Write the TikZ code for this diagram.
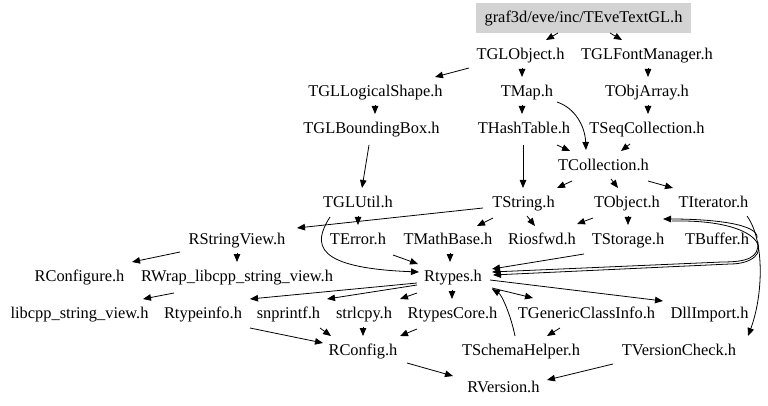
\documentclass[tikz,border=0pt]{standalone}
\usepackage{fontspec}
\setmainfont{Liberation Serif}
\usetikzlibrary{arrows.meta}
\definecolor{boxgray}{RGB}{211,211,211}
\newcommand\graphfont{\fontsize{16.4}{18}\selectfont}
\begin{document}
\begin{tikzpicture}[x=1pt,y=-1pt,
  lbl/.style={inner sep=0pt,text height=10.6pt,text depth=2pt,font=\graphfont},
  rootbox/.style={lbl,fill=boxgray,minimum width=215pt,minimum height=30pt},
  e/.style={line width=0.8pt,-{Triangle[length=8pt,width=6.5pt]}}]
\fill[white] (0,0) rectangle (768,406);
\useasboundingbox (0,0) rectangle (768,406);
% nodes
\node[rootbox] (top) at (583.5,18) {graf3d/eve/inc/TEveTextGL.h};
\node[lbl] (tglobj) at (520.5,55) {TGLObject.h};
\node[lbl] (tglfont) at (647,55) {TGLFontManager.h};
\node[lbl] (tgllog) at (375.5,92) {TGLLogicalShape.h};
\node[lbl] (tmap) at (527,92) {TMap.h};
\node[lbl] (tobjarr) at (647,92) {TObjArray.h};
\node[lbl] (tglbb) at (371.5,129) {TGLBoundingBox.h};
\node[lbl] (thash) at (524,129) {THashTable.h};
\node[lbl] (tseq) at (647,129) {TSeqCollection.h};
\node[lbl] (tcoll) at (603.5,166) {TCollection.h};
\node[lbl] (tglutil) at (358,203) {TGLUtil.h};
\node[lbl] (tstring) at (523.5,203) {TString.h};
\node[lbl] (tobject) at (627,203) {TObject.h};
\node[lbl] (titer) at (713.5,203) {TIterator.h};
\node[lbl] (rsv) at (237,240) {RStringView.h};
\node[lbl] (terror) at (358,240) {TError.h};
\node[lbl] (tmath) at (448,240) {TMathBase.h};
\node[lbl] (riosfwd) at (542,240) {Riosfwd.h};
\node[lbl] (tstorage) at (628,240) {TStorage.h};
\node[lbl] (tbuffer) at (717,240) {TBuffer.h};
\node[lbl] (rconfigure) at (79.5,277) {RConfigure.h};
\node[lbl] (rwrap) at (237,277) {RWrap\_libcpp\_string\_view.h};
\node[lbl] (rtypes) at (453,277) {Rtypes.h};
\node[lbl] (libcpp) at (79.5,314) {libcpp\_string\_view.h};
\node[lbl] (rtypeinfo) at (203,314) {Rtypeinfo.h};
\node[lbl] (snprintf) at (288.5,314) {snprintf.h};
\node[lbl] (strlcpy) at (364,314) {strlcpy.h};
\node[lbl] (rtcore) at (452.5,314) {RtypesCore.h};
\node[lbl] (tgen) at (586.5,314) {TGenericClassInfo.h};
\node[lbl] (dll) at (709.5,314) {DllImport.h};
\node[lbl] (rconfig) at (363,351) {RConfig.h};
\node[lbl] (tschema) at (521,351) {TSchemaHelper.h};
\node[lbl] (tvcheck) at (679,351) {TVersionCheck.h};
\node[lbl] (rversion) at (503.5,388) {RVersion.h};
% edges
\draw[e] ([shift={(-25.5,15)}]top.center) -- ([shift={(25.5,-15)}]tglobj.center);
\draw[e] ([shift={(26.5,15)}]top.center) -- ([shift={(-25,-15)}]tglfont.center);
\draw[e] ([shift={(-51.5,13)}]tglobj.center) -- ([shift={(59.5,-15)}]tgllog.center);
\draw[e] ([shift={(1.5,13)}]tglobj.center) -- ([shift={(-5,-15)}]tmap.center);
\draw[e] ([shift={(1,13)}]tglfont.center) -- ([shift={(1,-15)}]tobjarr.center);
\draw[e] ([shift={(-0.5,13)}]tgllog.center) -- ([shift={(3.5,-15)}]tglbb.center);
\draw[e] ([shift={(-5,13)}]tmap.center) -- ([shift={(-2,-15)}]thash.center);
\draw[e] ([shift={(1,13)}]tobjarr.center) -- ([shift={(1,-15)}]tseq.center);
\draw[e] ([shift={(30,10)}]tmap.center) .. controls +(18,6) and +(-1,-24) .. ([shift={(-17.5,-16)}]tcoll.center);
\draw[e] ([shift={(33,16)}]thash.center) -- ([shift={(-33.5,-15)}]tcoll.center);
\draw[e] ([shift={(-17,15)}]tseq.center) -- ([shift={(17.5,-15)}]tcoll.center);
\draw[e] ([shift={(-1,16)}]thash.center) -- ([shift={(-0.5,-15)}]tstring.center);
\draw[e] ([shift={(-2.5,16)}]tglbb.center) -- ([shift={(4,-15)}]tglutil.center);
\draw[e] ([shift={(-31.5,15)}]tcoll.center) -- ([shift={(33.5,-15)}]tstring.center);
\draw[e] ([shift={(7.5,13)}]tcoll.center) -- ([shift={(-9,-15)}]tobject.center);
\draw[e] ([shift={(44.5,15)}]tcoll.center) -- ([shift={(-40.5,-15)}]titer.center);
\draw[e] ([shift={(0,13)}]tglutil.center) -- ([shift={(0,-15)}]terror.center);
\draw[e] ([shift={(-28,14)}]tglutil.center) .. controls +(-18,28) and +(-104,-4) .. ([shift={(-34,-5)}]rtypes.center);
\draw[e] ([shift={(-40.5,5)}]tstring.center) -- ([shift={(60,-12)}]rsv.center);
\draw[e] ([shift={(-30.5,15)}]tstring.center) -- ([shift={(29,-14)}]tmath.center);
\draw[e] ([shift={(3.5,13)}]tstring.center) -- ([shift={(-7,-14)}]riosfwd.center);
\draw[e] ([shift={(-34,15)}]tobject.center) -- ([shift={(35,-16)}]riosfwd.center);
\draw[e] ([shift={(1,13)}]tobject.center) -- ([shift={(0,-15)}]tstorage.center);
\draw[e] ([shift={(40,-2)}]tbuffer.center) .. controls +(2,-14) and +(50,0) .. ([shift={(36,16)}]tobject.center);
\draw[e] ([shift={(45,18)}]tobject.center) .. controls +(103,-2) and +(45,0) .. ([shift={(13,24)}]tbuffer.center) -- ([shift={(40,-2)}]rtypes.center);
\draw[e] ([shift={(41,2)}]tbuffer.center) .. controls +(1,16) and +(25,0) .. ([shift={(5,22)}]tbuffer.center) -- ([shift={(39,-5)}]rtypes.center);
\draw[e] ([shift={(-44,14)}]tstorage.center) -- ([shift={(39,-8)}]rtypes.center);
\draw[e] ([shift={(33.5,13)}]titer.center) .. controls +(18,25) and +(15,-40) .. ([shift={(69,-15)}]tvcheck.center);
\draw[e] ([shift={(35,15)}]terror.center) -- ([shift={(-35,-13)}]rtypes.center);
\draw[e] ([shift={(2,13)}]tmath.center) -- ([shift={(-3,-15)}]rtypes.center);
\draw[e] ([shift={(-57,12)}]rsv.center) -- ([shift={(52.5,-15)}]rconfigure.center);
\draw[e] ([shift={(0,13)}]rsv.center) -- ([shift={(0,-15)}]rwrap.center);
\draw[e] ([shift={(-63,16)}]rwrap.center) -- ([shift={(63.5,-15)}]libcpp.center);
\draw[e] ([shift={(-36,6)}]rtypes.center) -- ([shift={(47,-15)}]rtypeinfo.center);
\draw[e] ([shift={(-36,8)}]rtypes.center) -- ([shift={(38.5,-15)}]snprintf.center);
\draw[e] ([shift={(-36,16)}]rtypes.center) -- ([shift={(36,-15)}]strlcpy.center);
\draw[e] ([shift={(-1,13)}]rtypes.center) -- ([shift={(-0.5,-15)}]rtcore.center);
\draw[e] ([shift={(39,11)}]rtypes.center) -- ([shift={(-53.5,-16)}]tgen.center);
\draw[e] ([shift={(37,3)}]rtypes.center) -- ([shift={(-46.5,-13)}]dll.center);
\draw[e] ([shift={(-6,-15)}]tschema.center) .. controls +(-4,-20) and +(10,6) .. ([shift={(39,12)}]rtypes.center);
\draw[e] ([shift={(-26.5,14)}]tgen.center) -- ([shift={(26,-15)}]tschema.center);
\draw[e] ([shift={(47,14)}]rtypeinfo.center) -- ([shift={(-40,-8)}]rconfig.center);
\draw[e] ([shift={(31.5,14)}]snprintf.center) -- ([shift={(-32,-15)}]rconfig.center);
\draw[e] ([shift={(-1,13)}]strlcpy.center) -- ([shift={(0,-15)}]rconfig.center);
\draw[e] ([shift={(-35.5,15)}]rtcore.center) -- ([shift={(37,-15)}]rconfig.center);
\draw[e] ([shift={(44,12)}]rconfig.center) -- ([shift={(-50.5,-12)}]rversion.center);
\draw[e] ([shift={(-66,13)}]tvcheck.center) -- ([shift={(43.5,-8)}]rversion.center);
\end{tikzpicture}
\end{document}
